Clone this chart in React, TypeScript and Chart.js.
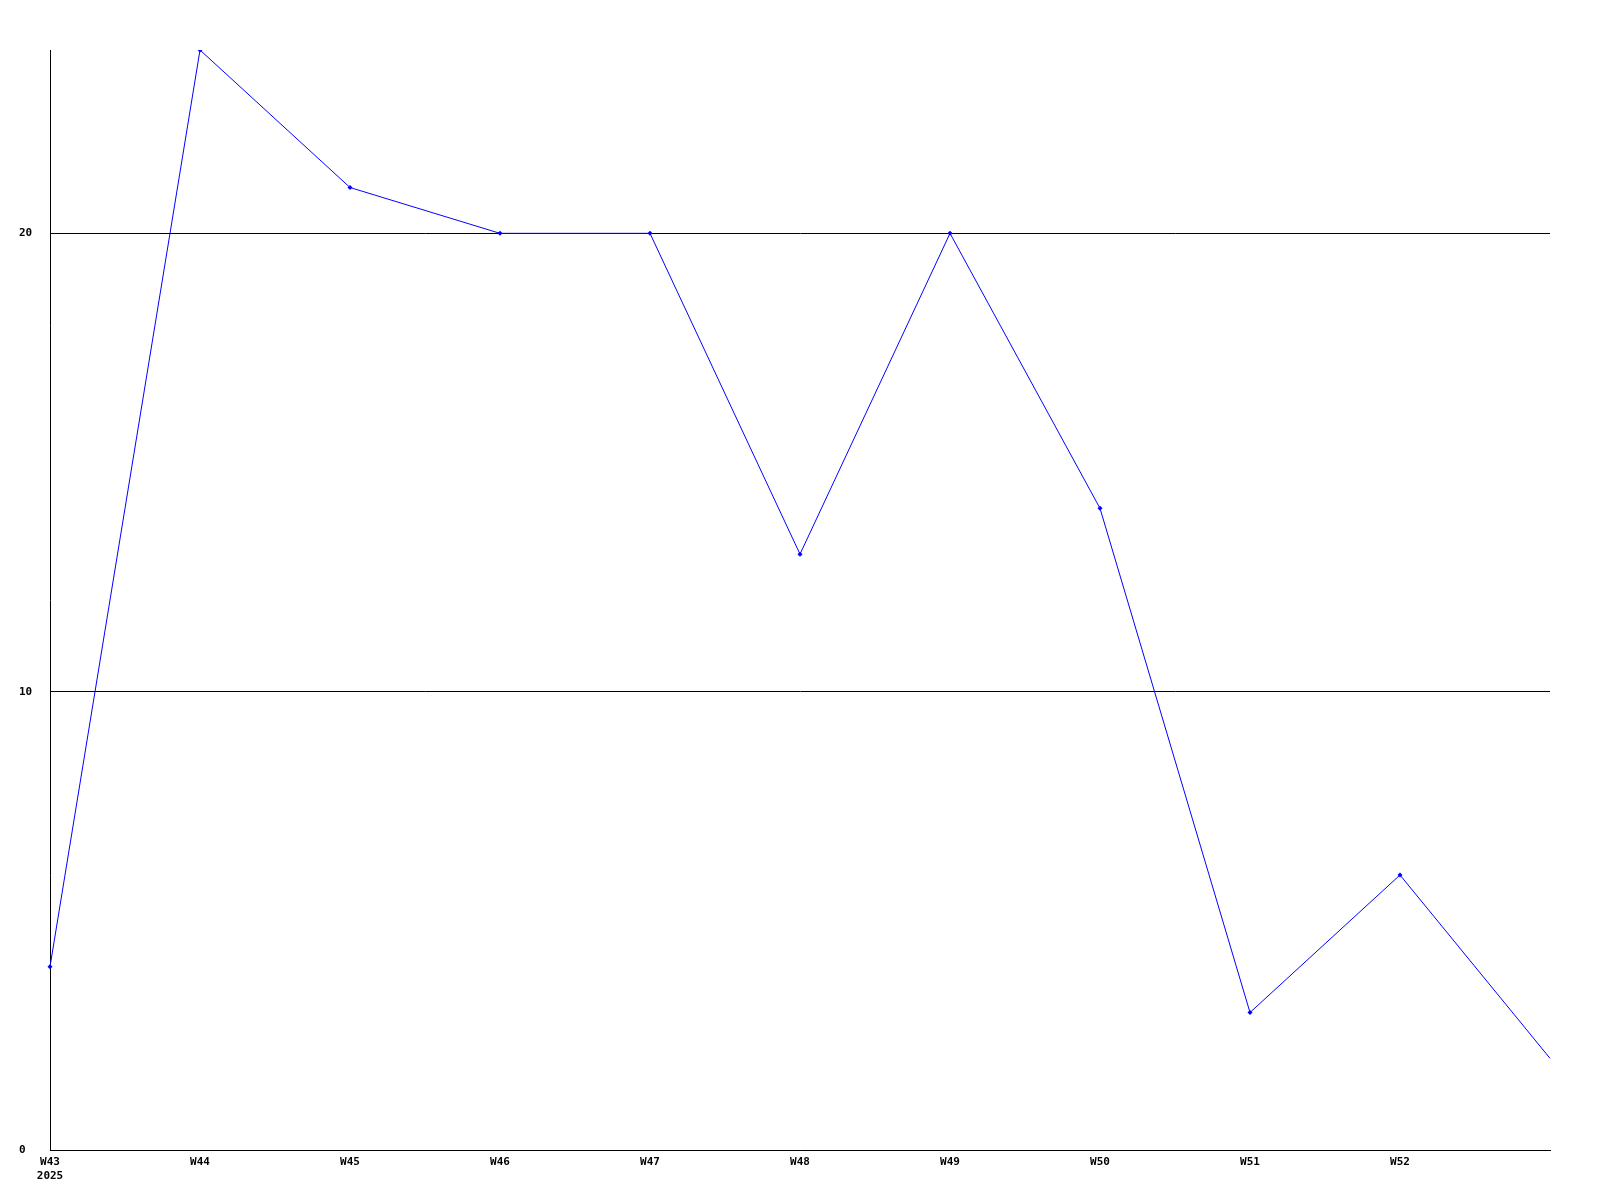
import React, { useEffect, useRef } from "react";
import { Chart, registerables } from "chart.js";

Chart.register(...registerables);

const weekLabels: (string | string[])[] = [
  ["W43", "2025"], "W44", "W45", "W46", "W47", "W48", "W49", "W50", "W51", "W52", "",
];
const seriesValues: number[] = [4, 24, 21, 20, 20, 13, 20, 14, 3, 6, 2];
const yTicks: number[] = [0, 10, 20];
const yMax = 24;

export default function App() {
  const ref = useRef<HTMLCanvasElement | null>(null);
  useEffect(() => {
    if (!ref.current) return;
    const font = { family: "'DejaVu Sans Mono', monospace", size: 11, weight: "bold" as const };
    const chart = new Chart(ref.current, {
      type: "line",
      data: {
        labels: weekLabels,
        datasets: [
          {
            data: seriesValues,
            borderColor: "#0000ff",
            backgroundColor: "#0000ff",
            borderWidth: 1,
            pointStyle: "rectRot",
            pointRadius: seriesValues.map((_, i) => (i === seriesValues.length - 1 ? 0 : 2.5)),
            pointBorderWidth: 0,
            tension: 0,
            fill: false,
          },
        ],
      },
      options: {
        animation: false,
        responsive: false,
        maintainAspectRatio: false,
        layout: { padding: { left: 19, right: 50, top: 50, bottom: 0 } },
        plugins: { legend: { display: false }, tooltip: { enabled: false } },
        scales: {
          x: {
            offset: false,
            grid: { display: false, drawTicks: false },
            border: { display: true, color: "#000", width: 1 },
            ticks: {
              color: "#000",
              font,
              maxRotation: 0,
              autoSkip: false,
              padding: 6,
            },
            afterFit: (s: any) => {
              s.height = 50;
            },
          },
          y: {
            min: 0,
            max: yMax,
            afterBuildTicks: (s: any) => {
              s.ticks = yTicks.map((v) => ({ value: v }));
            },
            grid: { color: "#000", lineWidth: 1, drawTicks: false },
            border: { display: true, color: "#000", width: 1 },
            ticks: {
              color: "#000",
              font,
              crossAlign: "far",
              padding: 14,
            },
            afterFit: (s: any) => {
              s.width = 31;
            },
          },
        },
      },
    });
    return () => chart.destroy();
  }, []);
  return (
    <div style={{ position: "fixed", left: 0, top: 0, width: 1600, height: 1200, background: "#fff" }}>
      <canvas ref={ref} width={1600} height={1200} style={{ width: 1600, height: 1200 }} />
    </div>
  );
}
